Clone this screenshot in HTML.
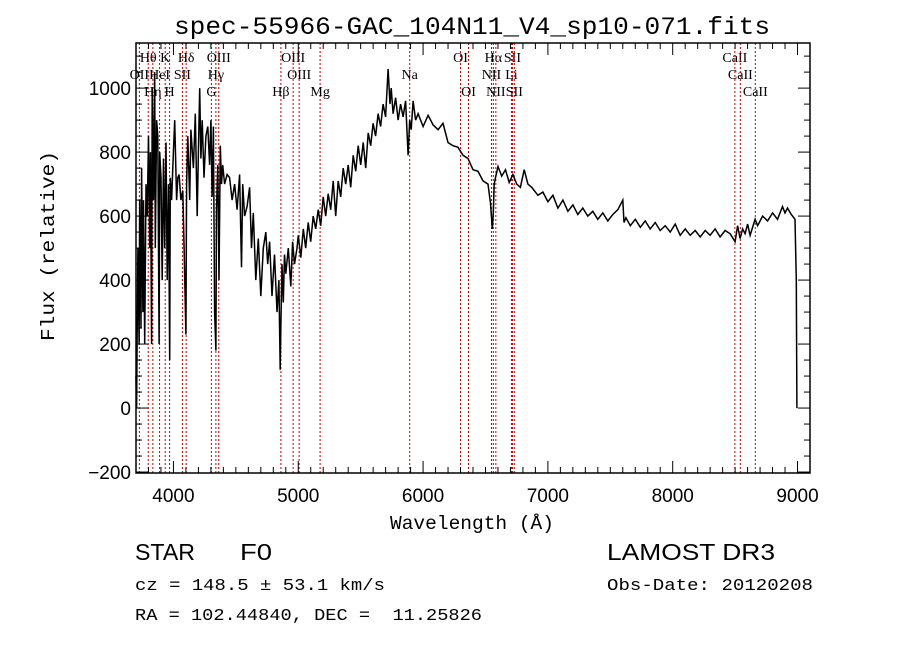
<!DOCTYPE html>
<html><head><meta charset="utf-8"><style>
html,body{margin:0;padding:0;background:#fff;}
svg{display:block;}
</style></head><body>
<svg id="chart" width="900" height="649" viewBox="0 0 900 649" xmlns="http://www.w3.org/2000/svg">
<rect width="900" height="649" fill="#fff"/>
<text x="472" y="34" text-anchor="middle" font-family="Liberation Mono, monospace" font-size="25" textLength="596" lengthAdjust="spacingAndGlyphs">spec-55966-GAC_104N11_V4_sp10-071.fits</text>
<g id="lines"></g>
<g id="spec"></g>
<g id="axes"></g>
<text x="472" y="529" text-anchor="middle" font-family="Liberation Mono, monospace" font-size="19" textLength="164" lengthAdjust="spacingAndGlyphs">Wavelength (Å)</text>
<text transform="translate(54,246) rotate(-90)" text-anchor="middle" font-family="Liberation Mono, monospace" font-size="19" textLength="190" lengthAdjust="spacingAndGlyphs">Flux (relative)</text>
<text x="135" y="560" font-family="Liberation Sans, sans-serif" font-size="23" textLength="60" lengthAdjust="spacingAndGlyphs">STAR</text>
<text x="240" y="560" font-family="Liberation Sans, sans-serif" font-size="23" textLength="32" lengthAdjust="spacingAndGlyphs">F0</text>
<text x="135" y="590" font-family="Liberation Mono, monospace" font-size="17" textLength="250" lengthAdjust="spacingAndGlyphs">cz = 148.5 ± 53.1 km/s</text>
<text x="135" y="620" font-family="Liberation Mono, monospace" font-size="17" textLength="347" lengthAdjust="spacingAndGlyphs" xml:space="preserve" style="white-space:pre">RA = 102.44840, DEC =  11.25826</text>
<text x="607" y="560" font-family="Liberation Sans, sans-serif" font-size="23" textLength="168" lengthAdjust="spacingAndGlyphs">LAMOST DR3</text>
<text x="607" y="590" font-family="Liberation Mono, monospace" font-size="17" textLength="206" lengthAdjust="spacingAndGlyphs">Obs-Date: 20120208</text>
</svg>
<script>
const wavelengths=[3700,3705,3710,3715,3725,3730,3740,3745,3755,3760,3770,3780,3790,3800,3810,3815,3825,3830,3840,3850,3855,3865,3875,3885,3890,3900,3910,3920,3930,3940,3950,3960,3970,3975,3985,4000,4010,4025,4035,4045,4060,4075,4085,4100,4105,4115,4130,4140,4160,4175,4190,4200,4210,4220,4230,4245,4260,4275,4290,4300,4310,4320,4330,4340,4345,4355,4365,4375,4385,4395,4410,4430,4450,4470,4490,4510,4530,4545,4555,4570,4590,4610,4625,4640,4660,4680,4700,4720,4740,4755,4770,4790,4810,4830,4845,4855,4862,4870,4880,4890,4900,4920,4940,4955,4970,4990,
5000,5020,5040,5060,5080,5100,5120,5140,5160,5180,5200,5220,5240,5260,5280,5300,5320,5340,5360,5380,5400,5420,5440,5460,5480,5500,5520,5540,5560,5580,5600,5620,5640,5660,5680,5700,5720,5735,5745,5760,5780,5800,5820,5840,5860,5880,5893,5905,5920,5940,5960,5980,
6000,6040,6080,6120,6160,6200,6240,6280,6320,6360,6400,6440,6480,6520,6540,6555,6563,6570,6580,6600,6630,6660,6690,6720,6750,6780,6810,6840,6870,6900,6920,6960,7000,7040,7080,7120,7160,7200,7240,7280,7320,7360,7400,7440,7480,7520,7560,7600,7610,7625,7660,7700,7740,7780,7820,7860,7900,7940,7980,8020,8060,8100,8140,8180,8220,8260,8300,8340,8380,8420,8460,8500,8520,8540,8560,8580,8600,8620,8660,8680,8720,8760,8800,8840,8880,8900,8920,8950,8980,8990,8995,9000];
const flux=[100,0,250,500,200,650,250,750,300,650,200,700,600,850,500,800,200,1000,650,1050,500,900,850,200,800,720,400,780,500,830,400,700,150,720,650,800,900,650,720,730,650,680,500,230,700,850,650,870,750,920,600,800,1000,780,900,720,850,880,760,900,660,880,300,180,620,760,400,820,700,760,700,730,720,650,700,620,730,440,700,600,630,690,500,610,400,530,350,500,550,450,520,350,480,300,400,120,280,450,330,480,420,500,380,520,450,
500,540,470,560,500,580,520,600,560,620,570,660,600,670,620,710,600,710,660,750,700,760,690,790,740,820,760,830,750,860,820,890,850,920,880,950,910,1060,950,1000,920,970,900,950,910,960,790,900,870,960,900,920,
900,880,915,885,870,890,830,820,815,790,780,745,740,710,700,640,560,610,700,720,755,725,745,705,730,700,690,745,700,690,675,665,675,645,665,625,650,615,635,605,625,600,615,590,610,585,605,620,650,580,595,570,590,565,585,560,580,555,570,550,575,540,560,540,555,535,555,540,560,535,555,545,520,570,530,560,545,575,540,590,570,600,585,610,590,630,610,625,605,590,400,0];
const lineWaves=[3727,3798,3835,3889,3934,3969,4072,4102,4304,4340,4363,4861,4959,5007,5175,5893,6300,6364,6548,6563,6583,6708,6716,6731,8498,8542,8662];
const lineLabels=["OII","Hθ","Hη","HeI","K","H","SII","Hδ","G","Hγ","OIII","Hβ","OIII","OIII","Mg","Na","OI","OI","NII","Hα","NII","Li","SII","SII","CaII","CaII","CaII"];
const lineRows=[2,1,3,2,1,3,2,1,3,2,1,3,1,2,3,2,1,3,2,1,3,2,1,3,1,2,3];
const xTicks=[4000,5000,6000,7000,8000,9000];
const yTicks=[-200,0,200,400,600,800,1000];

const L=136,R=810,T=43,B=473;
const X0=3700,X1=9100,Y0=-203,Y1=1141;
const sx=w=>L+(w-X0)/(X1-X0)*(R-L);
const sy=f=>B-(f-Y0)/(Y1-Y0)*(B-T);
const NS="http://www.w3.org/2000/svg";
function mk(tag,attrs,parent){const e=document.createElementNS(NS,tag);for(const k in attrs)e.setAttribute(k,attrs[k]);parent.appendChild(e);return e;}

const gl=document.getElementById('lines');
const rowY=[0,62,79,96];
lineWaves.forEach((w,i)=>{
  const x=sx(w);
  const ln=mk('line',{x1:x,x2:x,y1:T,y2:B,stroke:'#c00000','stroke-width':1,'stroke-dasharray':'2,2'},gl);
  
  
  const t=mk('text',{x:x,y:rowY[lineRows[i]],'text-anchor':'middle','font-family':'Liberation Serif, serif','font-size':14},gl);
  t.textContent=lineLabels[i];
  
  
});

const gs=document.getElementById('spec');
let d='';
wavelengths.forEach((w,i)=>{d+=(i?'L':'M')+sx(w).toFixed(1)+','+sy(flux[i]).toFixed(1);});
const p=mk('path',{d:d,fill:'none',stroke:'#000','stroke-width':1.5,'stroke-linejoin':'miter'},gs);



const ga=document.getElementById('axes');
const frame=mk('rect',{x:L,y:T,width:R-L,height:B-T,fill:'none',stroke:'#000','stroke-width':1.5},ga);


for(let w=3700;w<=9100;w+=100){
  const x=sx(w);const major=w%1000===0;const len=major?12:6;
  mk('line',{x1:x,x2:x,y1:B,y2:B-len,stroke:'#000','stroke-width':1},ga);
  mk('line',{x1:x,x2:x,y1:T,y2:T+len,stroke:'#000','stroke-width':1},ga);
}
for(let f=-200;f<=1100;f+=50){
  const y=sy(f);const major=f%200===0;const len=major?12:6;
  mk('line',{x1:L,x2:L+len,y1:y,y2:y,stroke:'#000','stroke-width':1},ga);
  mk('line',{x1:R,x2:R-len,y1:y,y2:y,stroke:'#000','stroke-width':1},ga);
}
xTicks.forEach(v=>{
  const t=mk('text',{x:sx(v),y:502,'text-anchor':'middle','font-family':'Liberation Sans, sans-serif','font-size':19},ga);
  t.textContent=String(v);
  
  
});
yTicks.forEach(v=>{
  const t=mk('text',{x:131,y:sy(v)+7,'text-anchor':'end','font-family':'Liberation Sans, sans-serif','font-size':19},ga);
  t.textContent=v<0?'−'+Math.abs(v):String(v);
  
  
});
</script>
</body></html>
